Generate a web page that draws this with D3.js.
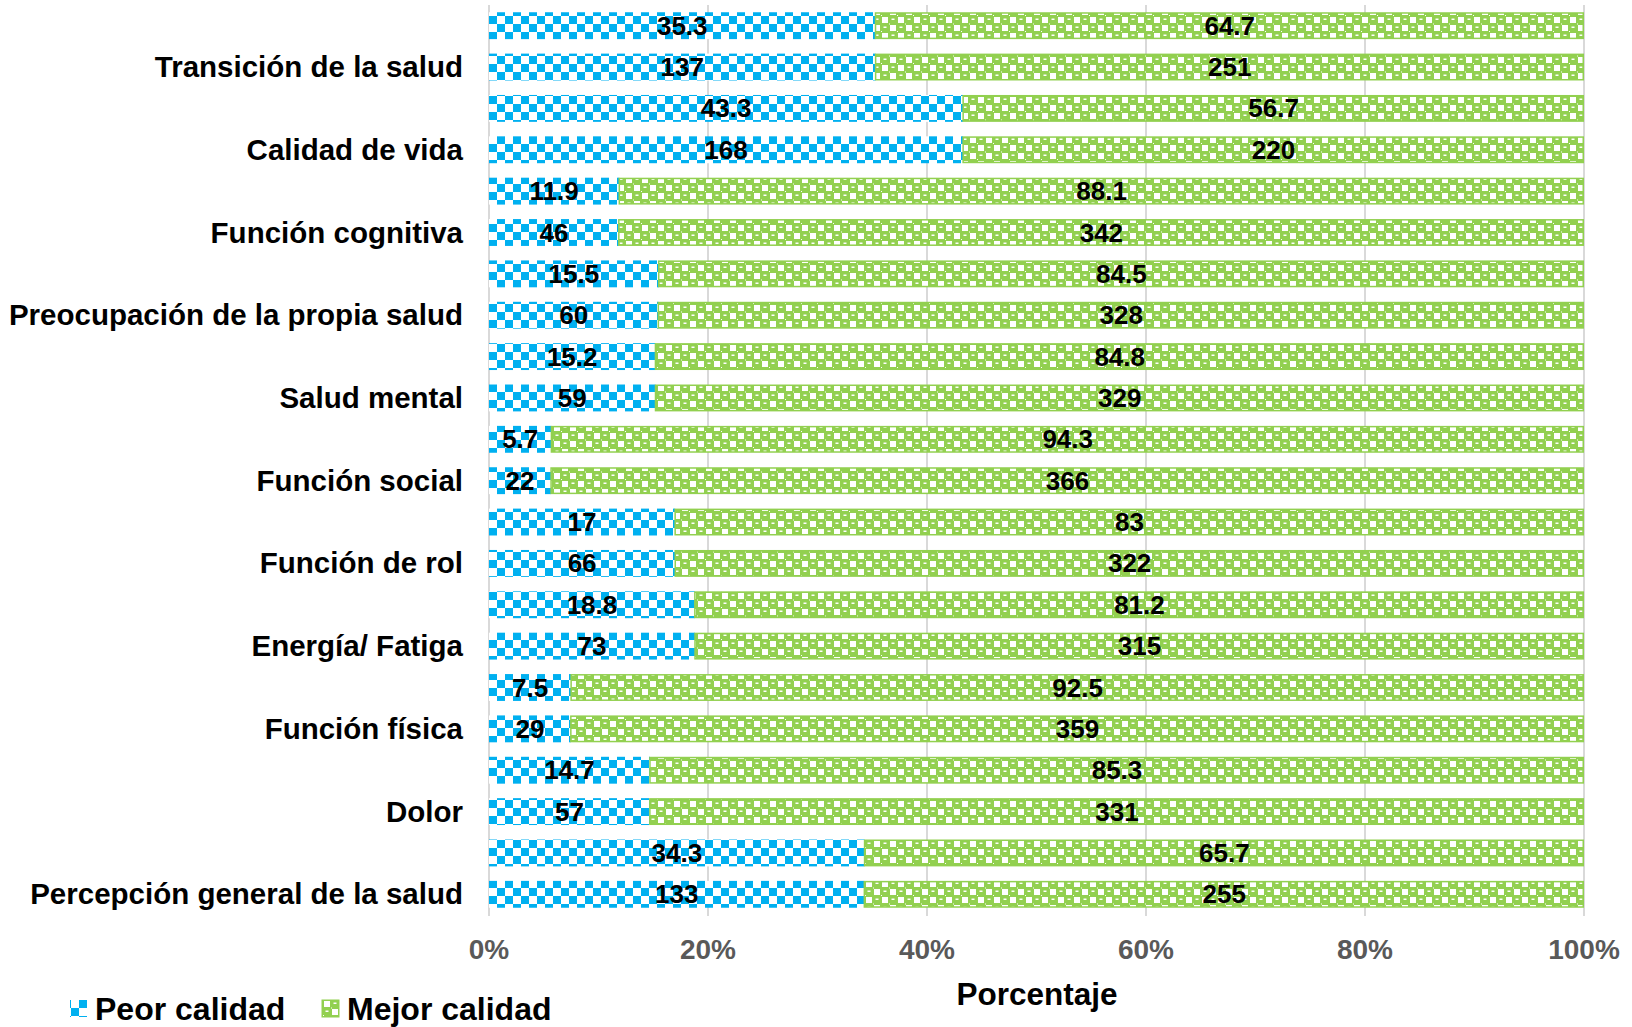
<!DOCTYPE html>
<html>
<head>
<meta charset="utf-8">
<script src="https://cdn.jsdelivr.net/npm/d3@7"></script>
<style>
  body { margin: 0; background: #fff; }
  svg { font-family: "Liberation Sans", Arial, sans-serif; font-weight: bold; }
</style>
</head>
<body>
<svg width="1632" height="1027"></svg>
<script>
const categories = [
  'Transición de la salud', 'Calidad de vida', 'Función cognitiva',
  'Preocupación de la propia salud', 'Salud mental', 'Función social',
  'Función de rol', 'Energía/ Fatiga', 'Función física', 'Dolor',
  'Percepción general de la salud'
]
const pctPeor  = [35.3, 43.3, 11.9, 15.5, 15.2, 5.7, 17, 18.8, 7.5, 14.7, 34.3]
const pctMejor = [64.7, 56.7, 88.1, 84.5, 84.8, 94.3, 83, 81.2, 92.5, 85.3, 65.7]
const nPeor    = [137, 168, 46, 60, 59, 22, 66, 73, 29, 57, 133]
const nMejor   = [251, 220, 342, 328, 329, 366, 322, 315, 359, 331, 255]
const seriesNames = ['Peor calidad', 'Mejor calidad']
const ticks = [0, 0.2, 0.4, 0.6, 0.8, 1]

const blue = '#00B0F0'
const green = '#92D050'

// two rows per category: percentages on top, counts below
const rows = []
categories.forEach((c, i) => {
  rows.push({ id: c + '|pct', cat: c, a: pctPeor[i], b: pctMejor[i], label: false })
  rows.push({ id: c + '|n', cat: c, a: nPeor[i], b: nMejor[i], label: true })
})

const svg = d3.select('svg')
const x0 = 489, x1 = 1584

const x = d3.scaleLinear().domain([0, 1]).range([x0, x1])
const y = d3.scaleBand().domain(rows.map(d => d.id)).range([5, 915])
            .paddingInner(0.35).paddingOuter(0.175)

const defs = svg.append('defs')

const pBlue = defs.append('pattern').attr('id', 'pBlue')
  .attr('patternUnits', 'userSpaceOnUse').attr('width', 16).attr('height', 16)
  .attr('x', x0).attr('y', 0)
pBlue.append('rect').attr('width', 16).attr('height', 16).attr('fill', '#fff')
pBlue.append('rect').attr('x', 0).attr('y', 0).attr('width', 8).attr('height', 8).attr('fill', blue)
pBlue.append('rect').attr('x', 8).attr('y', 8).attr('width', 8).attr('height', 8).attr('fill', blue)

const pGreen = defs.append('pattern').attr('id', 'pGreen')
  .attr('patternUnits', 'userSpaceOnUse').attr('width', 16).attr('height', 16)
  .attr('x', x0).attr('y', 0)
pGreen.append('rect').attr('width', 16).attr('height', 16).attr('fill', green)
pGreen.append('rect').attr('x', 9).attr('y', 1).attr('width', 6).attr('height', 6).attr('fill', '#fff')
pGreen.append('rect').attr('x', 1).attr('y', 9).attr('width', 6).attr('height', 6).attr('fill', '#fff')
pGreen.append('rect').attr('x', 2.5).attr('y', 2.5).attr('width', 3).attr('height', 1.5).attr('fill', '#fff')
pGreen.append('rect').attr('x', 10.5).attr('y', 10.5).attr('width', 3).attr('height', 1.5).attr('fill', '#fff')
pGreen.append('rect').attr('x', 0).attr('y', 7.5).attr('width', 1).attr('height', 1).attr('fill', '#fff')
pGreen.append('rect').attr('x', 8).attr('y', 15).attr('width', 1).attr('height', 1).attr('fill', '#fff')

// gridlines
svg.append('g').selectAll('line')
  .data(ticks).enter().append('line')
  .attr('x1', d => x(d)).attr('x2', d => x(d))
  .attr('y1', 5).attr('y2', 916)
  .attr('stroke', '#D9D9D9').attr('stroke-width', 2)

// bars
const bar = svg.append('g').selectAll('g')
  .data(rows).enter().append('g')

bar.append('rect')
  .attr('x', x(0))
  .attr('y', d => y(d.id))
  .attr('width', d => x(d.a / (d.a + d.b)) - x(0))
  .attr('height', y.bandwidth())
  .attr('fill', 'url(#pBlue)')

bar.append('rect')
  .attr('x', d => x(d.a / (d.a + d.b)))
  .attr('y', d => y(d.id) + 0.75)
  .attr('width', d => x(1) - x(d.a / (d.a + d.b)) - 0.75)
  .attr('height', y.bandwidth() - 1.5)
  .attr('fill', 'url(#pGreen)')
  .attr('stroke', green).attr('stroke-width', 1.5)

// data labels
bar.append('text')
  .attr('x', d => x(d.a / (d.a + d.b) / 2))
  .attr('y', d => y(d.id) + y.bandwidth() / 2 + 9)
  .attr('text-anchor', 'middle')
  .attr('font-size', 26)
  .text(d => d.a)

bar.append('text')
  .attr('x', d => x((d.a / (d.a + d.b) + 1) / 2))
  .attr('y', d => y(d.id) + y.bandwidth() / 2 + 9)
  .attr('text-anchor', 'middle')
  .attr('font-size', 26)
  .text(d => d.b)

// category labels
svg.append('g').selectAll('text')
  .data(rows.filter(d => d.label)).enter().append('text')
  .attr('x', 463)
  .attr('y', d => y(d.id) + y.bandwidth() / 2 + 10)
  .attr('text-anchor', 'end')
  .attr('font-size', 29.5)
  .text(d => d.cat)

// x axis tick labels
svg.append('g').selectAll('text')
  .data(ticks).enter().append('text')
  .attr('x', d => x(d))
  .attr('y', 959)
  .attr('text-anchor', 'middle')
  .attr('font-size', 28)
  .attr('fill', '#595959')
  .text(d3.format('.0%'))

svg.append('text')
  .attr('x', 1037).attr('y', 1005)
  .attr('text-anchor', 'middle')
  .attr('font-size', 31.5)
  .text('Porcentaje')

// legend
const legendX = [70, 322]
const lg = svg.append('g').selectAll('g')
  .data(seriesNames).enter().append('g')
  .attr('transform', (d, i) => 'translate(' + legendX[i] + ',1000)')

lg.append('rect')
  .attr('width', 17).attr('height', 17)
  .attr('fill', (d, i) => i === 0 ? 'url(#pBlue)' : 'url(#pGreen)')
  .attr('stroke', (d, i) => i === 0 ? 'none' : green)

lg.append('text')
  .attr('x', 25).attr('y', 20)
  .attr('font-size', 32)
  .text(d => d)
</script>
</body>
</html>
